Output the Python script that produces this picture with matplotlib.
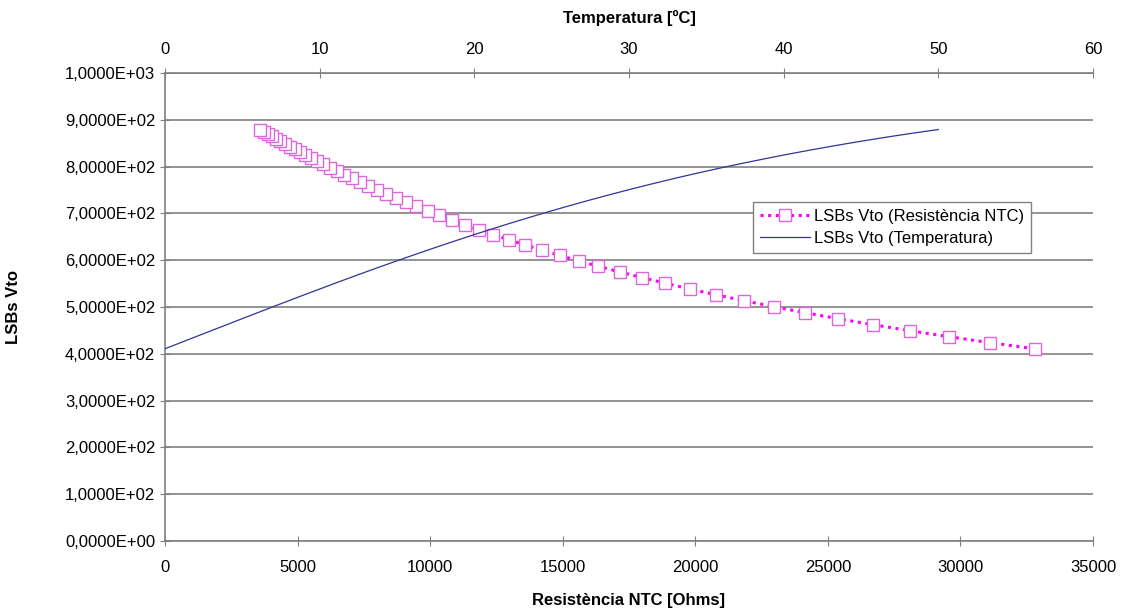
import matplotlib
matplotlib.use('Agg')
import matplotlib.pyplot as plt
from matplotlib.ticker import FuncFormatter, MultipleLocator

plt.rcParams['font.family'] = ['Liberation Sans', 'DejaVu Sans']

temperatura = list(range(0, 51))
resistencia = [32797, 31134, 29564, 28085, 26689, 25372, 24129, 22956, 21847, 20799,
               19808, 18871, 17984, 17144, 16350, 15597, 14884, 14208, 13566, 12959,
               12382, 11835, 11315, 10821, 10352, 9906, 9482, 9079, 8696, 8331,
               7984, 7653, 7338, 7038, 6752, 6480, 6220, 5972, 5736, 5510,
               5294, 5088, 4892, 4704, 4524, 4353, 4189, 4032, 3882, 3738, 3600]
lsbs = [410.7, 423.6, 436.5, 449.4, 462.2, 475.1, 487.9, 500.6, 513.3, 525.9,
        538.3, 550.7, 562.9, 575.0, 586.9, 598.6, 610.2, 621.6, 632.8, 643.8,
        654.6, 665.2, 675.6, 685.7, 695.7, 705.4, 714.9, 724.2, 733.2, 742.0,
        750.6, 759.0, 767.1, 775.1, 782.8, 790.2, 797.5, 804.6, 811.4, 818.1,
        824.6, 830.8, 836.9, 842.8, 848.5, 854.0, 859.4, 864.6, 869.6, 874.4, 879.1]

fig = plt.figure(figsize=(11.27, 6.13), dpi=100)
ax1 = fig.add_axes([0.1464, 0.1175, 0.8234, 0.7635])

# NTC resistance series (bottom axis)
l1, = ax1.plot(resistencia, lsbs, color='#ff00ff', linestyle=(0, (1, 1.5)), linewidth=2.2,
               marker='s', markersize=8, markerfacecolor='white', markeredgecolor='#dd66dd',
               markeredgewidth=1.0, label='LSBs Vto (Resistència NTC)', zorder=3)
ax1.set_xlim(0, 35000)
ax1.set_ylim(0, 1000)
ax1.xaxis.set_major_locator(MultipleLocator(5000))
ax1.yaxis.set_major_locator(MultipleLocator(100))
ax1.yaxis.set_major_formatter(FuncFormatter(lambda v, p: f'{v:.4E}'.replace('.', ',')))
ax1.grid(True, axis='y', color='#808080', linewidth=1.2)
ax1.set_axisbelow(True)
ax1.tick_params(axis='both', labelsize=12, direction='inout', length=7, color='#808080')
ax1.tick_params(axis='x', pad=10)
ax1.set_xlabel('Resistència NTC [Ohms]', fontsize=12, fontweight='bold', labelpad=13)
for s in ['left', 'bottom']:
    ax1.spines[s].set_color('#808080')
    ax1.spines[s].set_linewidth(1.2)
ax1.spines['right'].set_visible(False)
ax1.spines['top'].set_visible(False)

# Temperature series (top axis)
ax2 = ax1.twiny()
l2, = ax2.plot(temperatura, lsbs, color='#333399', linewidth=0.9, label='LSBs Vto (Temperatura)')
ax2.set_xlim(0, 60)
ax2.xaxis.set_major_locator(MultipleLocator(10))
ax2.tick_params(axis='x', labelsize=12, direction='inout', length=7, color='#808080', pad=8)
ax2.set_xlabel('Temperatura [ºC]', fontsize=12, fontweight='bold', labelpad=14)
ax2.spines['top'].set_color('#808080')
ax2.spines['top'].set_linewidth(1.2)
for s in ['left', 'right', 'bottom']:
    ax2.spines[s].set_visible(False)

fig.text(0.012, 0.5, 'LSBs Vto', rotation=90, fontsize=12, fontweight='bold',
         ha='center', va='center')

leg = ax1.legend([l1, l2], [l1.get_label(), l2.get_label()], loc='upper left',
                 bbox_to_anchor=(0.6336, 0.7244), borderaxespad=0, fontsize=12,
                 numpoints=1, fancybox=False, framealpha=1, edgecolor='#808080',
                 handlelength=3.0, borderpad=0.4, labelspacing=0.45, handletextpad=0.25)
leg.get_frame().set_linewidth(1.0)

fig.savefig('out.png', dpi=100)
